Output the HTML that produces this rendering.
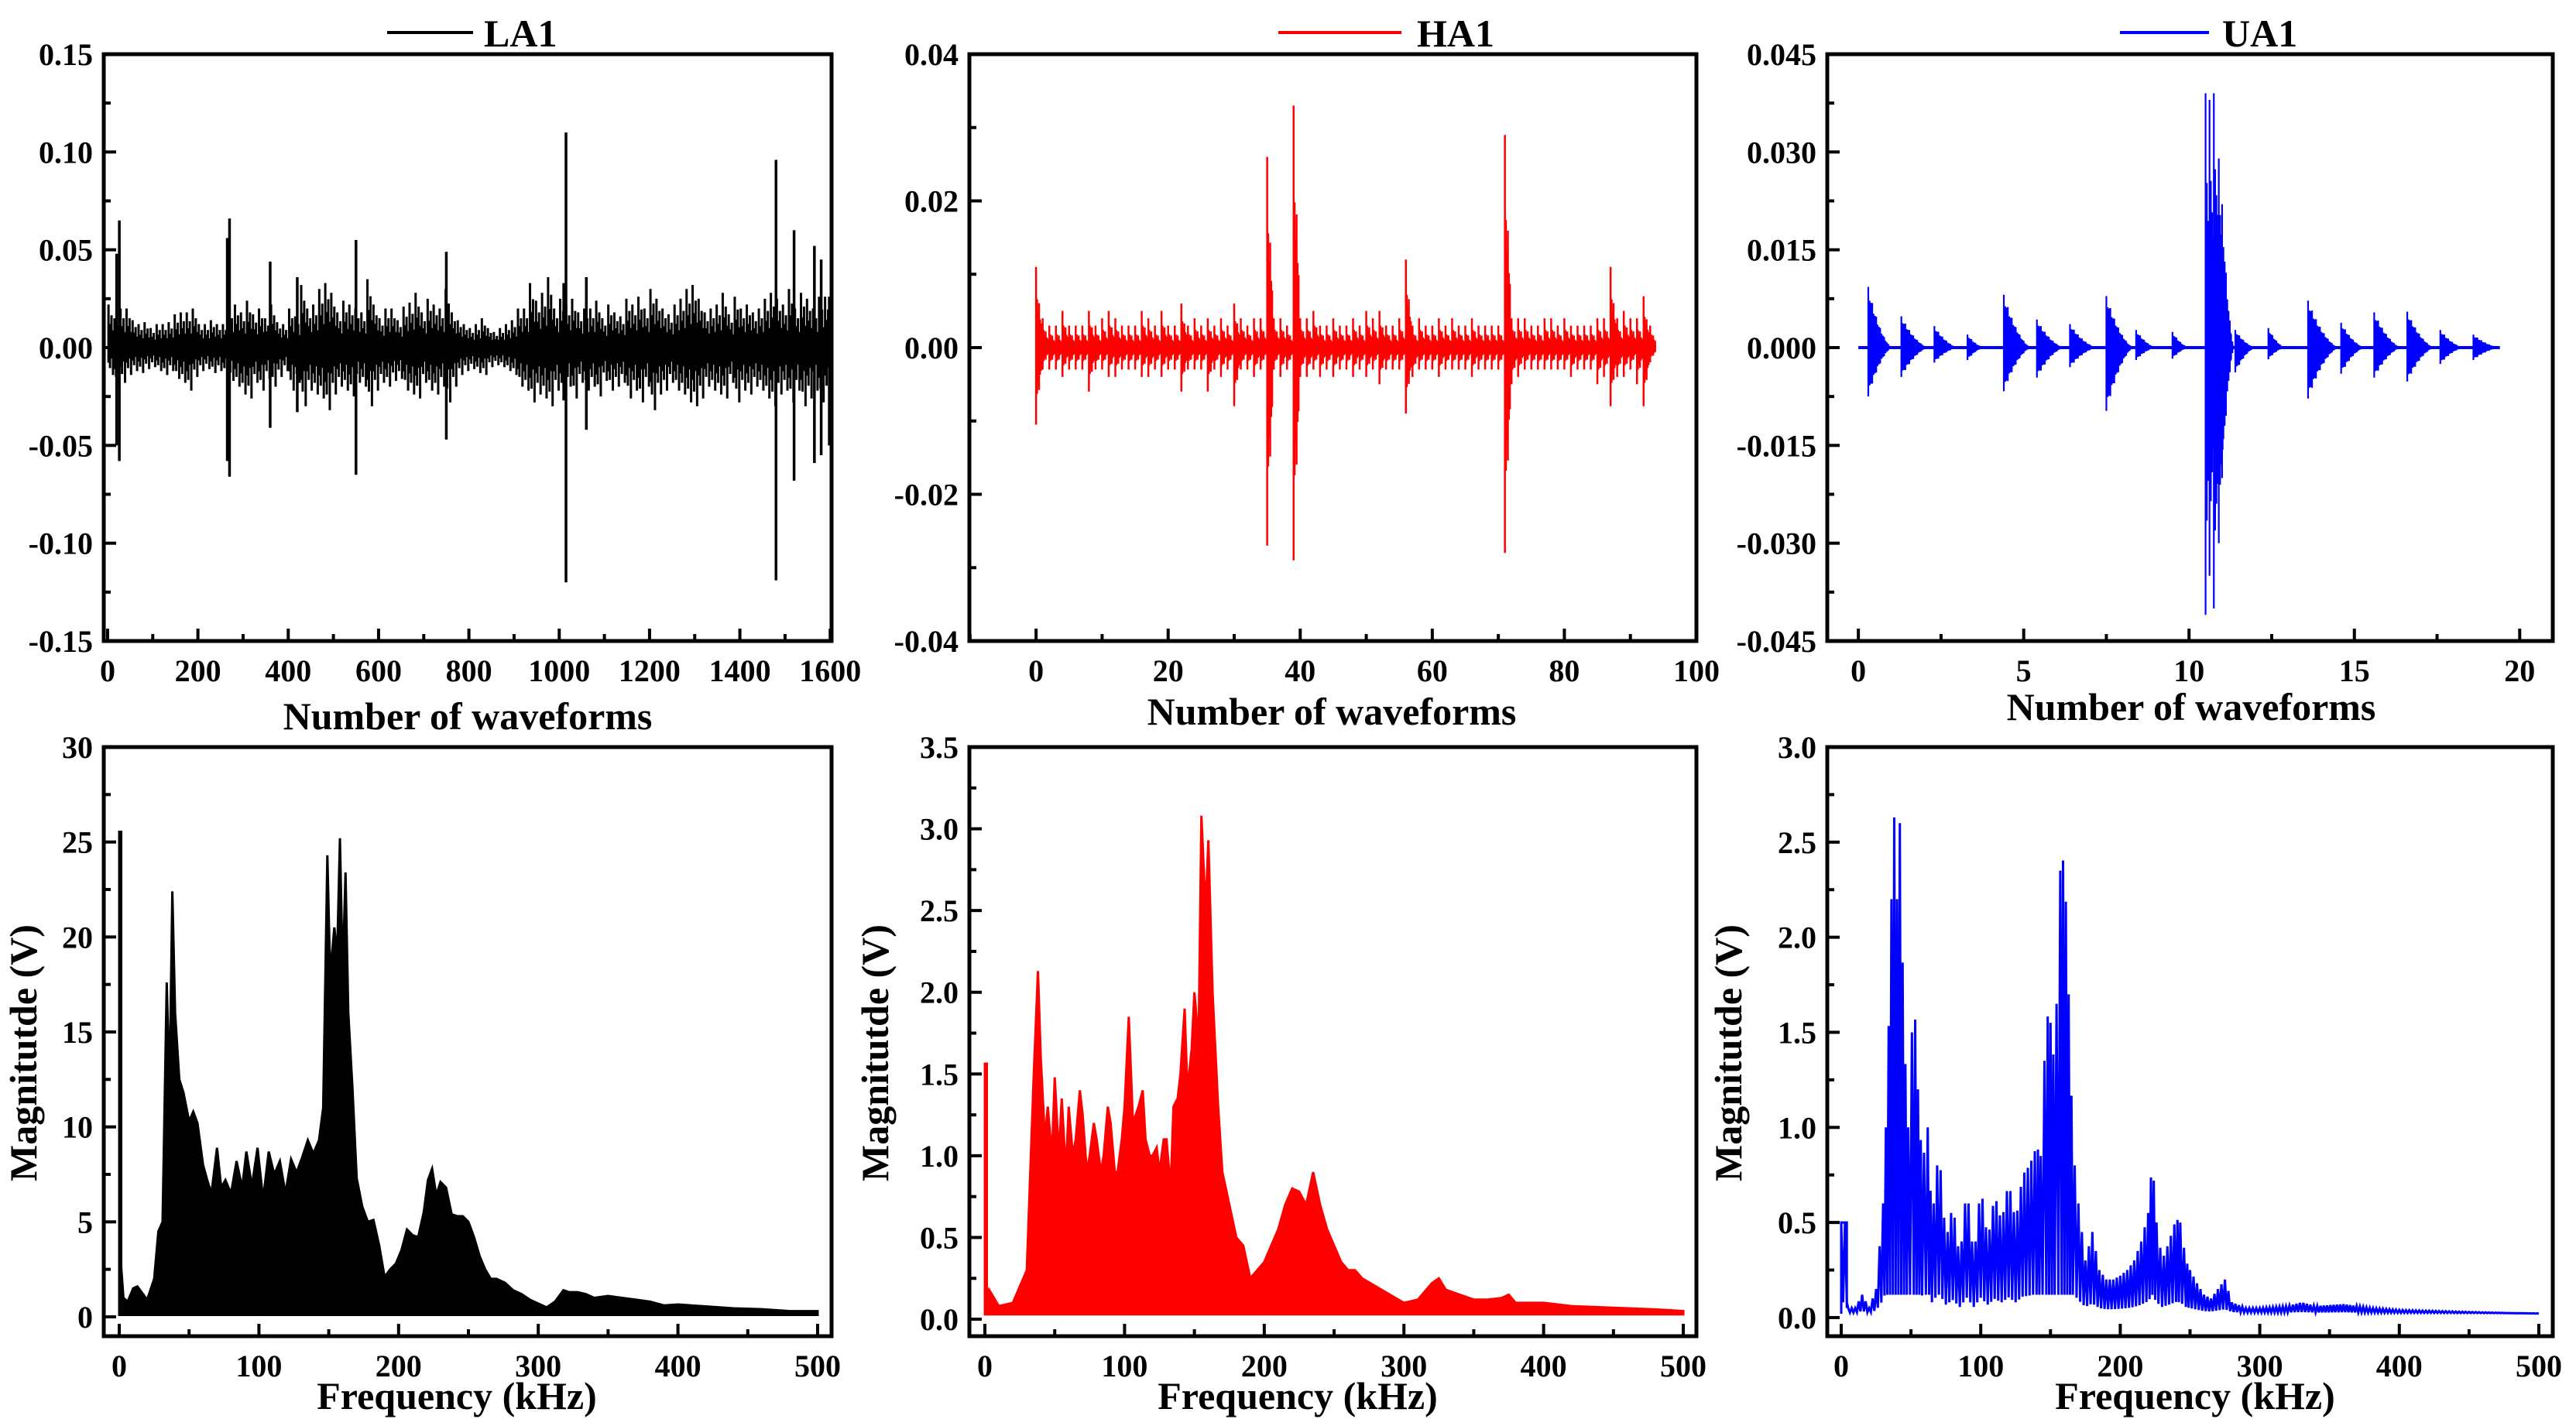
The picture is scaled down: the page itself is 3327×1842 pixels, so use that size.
<!DOCTYPE html>
<html><head><meta charset="utf-8"><title>LA1 HA1 UA1 waveforms and spectra</title>
<style>
html,body{margin:0;padding:0;background:#fff;}
svg{display:block;font-family:"Liberation Serif",serif;font-weight:bold;}
</style></head>
<body>
<svg id="fig" width="3327" height="1842" viewBox="0 0 3327 1842" xmlns="http://www.w3.org/2000/svg"></svg>
<script>
// ---------- DATA ----------
const la1Hi = [22,15,20,20,14,12,13,10,12,12,13,17,18,18,20,12,12,14,12,12,20,22,18,24,17,20,15,22,13,12,20,16,32,20,22,30,33,28,18,24,22,20,18,35,22,15,20,20,14,21,23,28,18,25,22,20,30,18,14,12,10,12,15,10,8,10,12,14,20,20,33,24,28,36,20,25,22,25,18,20,20,24,15,22,18,16,25,22,26,20,30,25,20,17,22,25,30,32,25,18,20,22,28,17,26,20,22,18,20,25,28,25,22,30,20,28,25,20,26,26];
const la1Lo = [-14,-20,-18,-14,-12,-13,-11,-10,-12,-14,-12,-16,-18,-22,-15,-12,-11,-13,-12,-14,-17,-20,-24,-26,-18,-22,-16,-20,-15,-12,-22,-18,-30,-22,-24,-26,-32,-24,-20,-22,-25,-18,-20,-30,-22,-18,-20,-17,-16,-22,-24,-26,-18,-22,-24,-20,-28,-20,-14,-12,-11,-13,-14,-10,-9,-10,-12,-14,-20,-22,-28,-24,-26,-30,-22,-24,-20,-26,-18,-22,-20,-25,-17,-22,-20,-18,-26,-22,-28,-20,-32,-24,-22,-18,-22,-24,-28,-30,-26,-20,-22,-24,-26,-18,-28,-22,-24,-20,-22,-26,-30,-24,-22,-28,-22,-30,-26,-22,-28,-26];
const la1SpikeX = [20,26,265,270,360,420,550,750,1010,1015,1060,1480,1520,1565,1580,1598];
const la1SpikeHi = [0.048,0.065,0.056,0.066,0.044,0.036,0.055,0.049,0.033,0.110,0.036,0.096,0.060,0.052,0.045,0.026];
const la1SpikeLo = [-0.050,-0.058,-0.058,-0.066,-0.041,-0.033,-0.065,-0.047,-0.027,-0.120,-0.042,-0.119,-0.068,-0.059,-0.055,-0.050];
const ha1Hi = [11,4,3,3,5,3,3,3,5,3,4,5,4,3,3,3,5,4,3,5,3,3,6,3,4,3,4,3,4,3,6,4,3,4,4,26,4,4,3,33,4,4,5,3,3,4,3,3,4,3,5,4,5,3,3,4,12,3,4,3,3,4,3,4,3,3,4,3,3,3,3,29,4,4,4,3,3,4,4,3,4,3,3,3,3,4,4,11,4,5,4,4,7,3];
const ha1Lo = [-10.5,-3,-3,-3,-4,-3,-3,-3,-6,-3,-3,-4,-4,-3,-3,-3,-4,-4,-3,-4,-3,-3,-6,-3,-3,-3,-6,-3,-4,-3,-8,-3,-3,-4,-3,-27,-3,-4,-3,-29,-4,-4,-3,-4,-3,-4,-3,-3,-4,-3,-4,-3,-5,-3,-3,-3,-9,-4,-3,-3,-3,-4,-3,-3,-3,-3,-4,-3,-3,-3,-3,-28,-5,-4,-3,-3,-3,-3,-3,-3,-3,-4,-3,-3,-3,-5,-4,-8,-4,-4,-3,-5,-8,-2];
const ua1BurstX = [0.3,1.3,2.3,3.3,4.4,5.4,6.4,7.5,8.4,9.5,10.5,10.62,10.75,10.9,11.0,11.4,12.4,13.6,14.6,15.6,16.6,17.6,18.6];
const ua1BurstHi = [0.0093,0.0048,0.0033,0.0020,0.0081,0.0043,0.0036,0.0079,0.0027,0.0024,0.039,0.038,0.039,0.029,0.022,0.0027,0.0030,0.0072,0.0038,0.0054,0.0055,0.0027,0.0020];
const ua1BurstLo = [-0.0075,-0.0045,-0.0023,-0.0019,-0.0067,-0.0046,-0.0030,-0.0097,-0.0019,-0.0017,-0.041,-0.035,-0.040,-0.030,-0.020,-0.0038,-0.0018,-0.0078,-0.0040,-0.0046,-0.0052,-0.0025,-0.0019];
const ua1BurstDur = [0.7,0.8,0.7,0.5,0.8,0.8,0.8,0.8,0.6,0.5,0.25,0.3,0.35,0.35,0.35,0.6,0.5,0.9,0.7,0.8,0.8,0.7,0.8];
const la1Freq = [0,1,3,6,10,13,16,20,25,28,31,34,36,38,40,43,46,50,53,56,60,63,66,70,73,76,80,84,88,91,95,99,103,107,111,115,119,123,127,131,135,139,143,146,149,151,154,156,158,160,162,164,167,170,174,178,182,186,190,194,198,202,206,210,214,218,221,224,227,230,234,238,242,246,250,254,258,262,266,270,276,282,288,294,300,306,312,318,322,328,334,340,350,360,370,380,390,400,420,440,460,480,500];
const la1Mag = [25.6,3,1,0.8,1.5,1.6,1.3,0.9,2,4.5,5,17.6,12,22.4,16,12.5,11.8,10.3,10.8,10.2,8,7.2,6.5,8.9,6.8,7.2,6.5,8.2,6.8,8.7,6.9,8.9,6.2,8.7,7.5,8.2,6.5,8.3,7.6,8.4,9.3,8.6,9.3,11,24.3,18,20.5,19,25.2,18,23.4,16,12,7.3,5.8,5,5.1,3.8,2.1,2.5,2.8,3.5,4.6,4.3,4.2,5.5,7.2,7.8,6.4,7.1,6.8,5.4,5.3,5.3,5,4.2,3.2,2.5,2,2,1.8,1.4,1.2,0.9,0.7,0.5,0.8,1.4,1.3,1.3,1.2,1,1.1,1,0.9,0.8,0.6,0.65,0.55,0.45,0.4,0.3,0.3];
const ha1Freq = [0,1,3,10,20,30,35,38,40,43,45,48,50,53,55,58,60,63,65,68,70,73,75,78,80,83,85,88,90,93,95,98,100,103,106,110,113,115,118,120,123,125,128,130,133,135,138,140,143,145,148,150,153,155,158,160,163,167,170,175,180,185,190,195,200,205,210,215,220,225,230,235,240,245,250,255,260,265,270,280,290,300,310,320,325,330,340,350,360,370,375,380,400,420,450,480,500];
const ha1Mag = [1.57,0.1,0.18,0.08,0.1,0.3,1.5,2.13,1.6,1.1,1.3,1.0,1.48,1.0,1.35,0.9,1.3,1.0,1.1,1.4,1.25,0.9,1.0,1.2,1.1,0.9,1.0,1.3,1.2,0.9,0.9,1.1,1.3,1.85,1.2,1.3,1.4,1.1,1.0,1.0,1.05,0.9,1.1,1.1,0.8,1.3,1.35,1.5,1.9,1.4,1.65,2.0,1.7,3.08,2.5,2.93,2.0,1.3,0.9,0.7,0.5,0.45,0.25,0.3,0.35,0.45,0.55,0.7,0.8,0.78,0.7,0.9,0.7,0.55,0.45,0.35,0.3,0.3,0.25,0.2,0.15,0.1,0.12,0.22,0.25,0.18,0.15,0.12,0.12,0.13,0.15,0.1,0.1,0.08,0.07,0.06,0.05];
const ua1Freq = [0,4,5,10,15,20,25,30,33,36,38,40,42,45,48,52,55,58,62,65,70,75,80,85,90,95,100,105,110,115,120,125,130,135,140,143,147,150,153,157,160,163,166,170,175,180,185,190,195,200,205,210,215,220,223,226,230,235,240,243,247,250,255,260,265,270,275,280,290,300,320,330,340,360,380,400,450,500];
const ua1Mag = [0.5,0.5,0.05,0.05,0.12,0.05,0.15,0.6,1.2,2.2,2.63,2.2,2.6,1.5,1.0,1.75,1.2,0.8,1.0,0.5,0.9,0.4,0.6,0.3,0.7,0.3,0.7,0.4,0.65,0.5,0.72,0.5,0.75,0.8,0.9,0.85,1.6,1.55,1.3,2.35,2.43,1.7,0.9,0.6,0.3,0.45,0.25,0.2,0.2,0.22,0.25,0.3,0.4,0.55,0.83,0.5,0.3,0.4,0.52,0.5,0.3,0.25,0.18,0.12,0.1,0.15,0.2,0.08,0.05,0.05,0.06,0.08,0.06,0.07,0.05,0.04,0.03,0.02];
const p1YTicks = ["0.15","0.10","0.05","0.00","-0.05","-0.10","-0.15"];
const p2YTicks = ["0.04","0.02","0.00","-0.02","-0.04"];
const p3YTicks = ["0.045","0.030","0.015","0.000","-0.015","-0.030","-0.045"];
const p4YTicks = ["0","5","10","15","20","25","30"];
const p5YTicks = ["0.0","0.5","1.0","1.5","2.0","2.5","3.0","3.5"];
const p6YTicks = ["0.0","0.5","1.0","1.5","2.0","2.5","3.0"];

// ---------- RENDER ----------
const NS = "http://www.w3.org/2000/svg";
const svg = document.getElementById('fig');
function mk(tag, attrs, parent) {
  const e = document.createElementNS(NS, tag);
  for (const k in attrs) e.setAttribute(k, attrs[k]);
  (parent || svg).appendChild(e);
  return e;
}
const defs = mk('defs', {});

function panel(id, box, xr, yr, xMajor, xMinor, yMajor, yMinor, yLabels, xLabelDigits) {
  const g = mk('g', {});
  
  
  const sx = v => box.x0 + (v - xr[0]) / (xr[1] - xr[0]) * (box.x1 - box.x0);
  const sy = v => box.y1 - (v - yr[0]) / (yr[1] - yr[0]) * (box.y1 - box.y0);
  const cp = mk('clipPath', {id: id + '-clip'}, defs);
  mk('rect', {x: box.x0, y: box.y0, width: box.x1 - box.x0, height: box.y1 - box.y0}, cp);
  const plot = mk('g', {'clip-path': 'url(#' + id + '-clip)'}, g);
  
  
  const tg = mk('g', {stroke: '#000', 'stroke-width': 4}, g);
  
  
  const eps = 1e-9;
  const xs = Math.ceil((xr[0] - eps) / xMinor);
  const xe = Math.floor((xr[1] + eps) / xMinor);
  for (let k = xs; k <= xe; k++) {
    const v = k * xMinor;
    const major = Math.abs(v / xMajor - Math.round(v / xMajor)) < 1e-6;
    mk('line', {x1: sx(v), x2: sx(v), y1: box.y1, y2: box.y1 - (major ? 16 : 9)}, tg);
    if (major) {
      const t = mk('text', {x: sx(v), y: box.y1 + 52, 'text-anchor': 'middle', 'font-size': 40, stroke: 'none', fill: '#000'}, g);
      t.textContent = xLabelDigits(v);
      
      
    }
  }
  const ys = Math.ceil((yr[0] - eps) / yMinor);
  const ye = Math.floor((yr[1] + eps) / yMinor);
  for (let k = ys; k <= ye; k++) {
    const v = k * yMinor;
    const major = Math.abs(v / yMajor - Math.round(v / yMajor)) < 1e-6;
    mk('line', {x1: box.x0, x2: box.x0 + (major ? 16 : 9), y1: sy(v), y2: sy(v)}, tg);
  }
  for (let i = 0; i < yLabels.length; i++) {
    const v = parseFloat(yLabels[i]);
    const t = mk('text', {x: box.x0 - 14, y: sy(v) + 14, 'text-anchor': 'end', 'font-size': 40, fill: '#000'}, g);
    t.textContent = yLabels[i];
    
    
  }
  const frame = mk('rect', {x: box.x0, y: box.y0, width: box.x1 - box.x0, height: box.y1 - box.y0, fill: 'none', stroke: '#000', 'stroke-width': 5}, g);
  
  
  return {g, plot, sx, sy};
}
function txt(x, y, s, size, name, anchor, rot) {
  const a = {x: x, y: y, 'font-size': size, 'text-anchor': anchor || 'middle', fill: '#000'};
  if (rot) a.transform = 'rotate(-90 ' + x + ' ' + y + ')';
  const t = mk('text', a);
  t.textContent = s;
  
  
  return t;
}
function legend(x1, x2, tx, color, label, name) {
  const l = mk('line', {x1: x1, x2: x2, y1: 42, y2: 42, stroke: color, 'stroke-width': 4});
  
  
  txt(tx, 60, label, 50, name + '-legend-label', 'start');
}
const intLab = v => String(Math.round(v));
const topRow = {y0: 70, y1: 828}, botRow = {y0: 965, y1: 1726};

// Panel 1
const P1 = panel('la1-wave', {x0: 134, x1: 1074, y0: topRow.y0, y1: topRow.y1}, [-8.5, 1603], [-0.15, 0.15], 200, 100, 0.05, 0.025, p1YTicks, intLab);
{
  const w = 1600 / la1Hi.length;
  const fr = [0.15, 0.4, 0.65, 0.9], fa = [1, 0.55, 0.75, 0.4];
  for (let i = 0; i < la1Hi.length; i++) {
    for (let k = 0; k < fr.length; k++) {
      const x = P1.sx(i * w + fr[k] * w);
      const l = mk('line', {x1: x, x2: x, y1: P1.sy(la1Hi[i] * 1e-3 * fa[k]), y2: P1.sy(la1Lo[i] * 1e-3 * fa[(k + 1) % 4]), stroke: '#000', 'stroke-width': 3}, P1.plot);
      
      
    }
  }
  const core = mk('rect', {x: P1.sx(0), y: P1.sy(0.004), width: P1.sx(1600) - P1.sx(0), height: P1.sy(-0.004) - P1.sy(0.004), fill: '#000'}, P1.plot);
  
  
  for (let i = 0; i < la1SpikeX.length; i++) {
    const x = P1.sx(la1SpikeX[i]);
    const l = mk('line', {x1: x, x2: x, y1: P1.sy(la1SpikeHi[i]), y2: P1.sy(la1SpikeLo[i]), stroke: '#000', 'stroke-width': 3.5}, P1.plot);
    
    
  }
}
legend(500, 611, 625, '#000', 'LA1', 'la1');
txt(604, 942, 'Number of waveforms', 50, 'la1-wave-x-axis-title');

// Panel 2
const P2 = panel('ha1-wave', {x0: 1252, x1: 2191, y0: topRow.y0, y1: topRow.y1}, [-10.1, 100], [-0.04, 0.04], 20, 10, 0.02, 0.01, p2YTicks, intLab);
{
  const base = mk('line', {x1: P2.sx(0), x2: P2.sx(93.5), y1: P2.sy(0), y2: P2.sy(0), stroke: '#f00', 'stroke-width': 3}, P2.plot);
  
  
  const off = [0, 0.15, 0.3, 0.45, 0.6, 0.75], fa = [1, 0.6, 0.45, 0.55, 0.35, 0.3];
  for (let i = 0; i < ha1Hi.length; i++) {
    for (let k = 0; k < off.length; k++) {
      const x = P2.sx(i + off[k]);
      const l = mk('line', {x1: x, x2: x, y1: P2.sy(ha1Hi[i] * 1e-3 * fa[k]), y2: P2.sy(ha1Lo[i] * 1e-3 * fa[k]), stroke: '#f00', 'stroke-width': 2.5}, P2.plot);
      
      
    }
  }
}
legend(1651, 1810, 1830, '#f00', 'HA1', 'ha1');
txt(1720, 936, 'Number of waveforms', 50, 'ha1-wave-x-axis-title');

// Panel 3
const P3 = panel('ua1-wave', {x0: 2360, x1: 3297, y0: topRow.y0, y1: topRow.y1}, [-0.94, 21], [-0.045, 0.045], 5, 2.5, 0.015, 0.0075, p3YTicks, intLab);
{
  const base = mk('line', {x1: P3.sx(0), x2: P3.sx(19.4), y1: P3.sy(0), y2: P3.sy(0), stroke: '#00f', 'stroke-width': 4}, P3.plot);
  
  
  const jag = [1, 0.7, 0.85, 0.55, 0.9, 0.65];
  for (let b = 0; b < ua1BurstX.length; b++) {
    const steps = Math.max(6, Math.round(ua1BurstDur[b] / 0.02));
    for (let s = 0; s < steps; s++) {
      const f = s / steps;
      const amp = (1 - f) * (0.35 + 0.65 * (1 - f)) * jag[s % jag.length];
      const x = P3.sx(ua1BurstX[b] + f * ua1BurstDur[b]);
      const l = mk('line', {x1: x, x2: x, y1: P3.sy(ua1BurstHi[b] * amp), y2: P3.sy(ua1BurstLo[b] * amp), stroke: '#00f', 'stroke-width': 2.2}, P3.plot);
      
      
    }
  }
}
legend(2738, 2853, 2870, '#00f', 'UA1', 'ua1');
txt(2830, 930, 'Number of waveforms', 50, 'ua1-wave-x-axis-title');

// Spectra
function spectrum(P, freq, mag, color, name, floor) {
  const n = Math.min(freq.length, mag.length);
  let pts = P.sx(freq[0]) + ',' + P.sy(floor);
  for (let i = 0; i < n; i++) pts += ' ' + P.sx(freq[i]) + ',' + P.sy(mag[i]);
  pts += ' ' + P.sx(freq[n - 1]) + ',' + P.sy(floor);
  const p = mk('polygon', {points: pts, fill: color, stroke: color, 'stroke-width': 3, 'stroke-linejoin': 'miter'}, P.plot);
  
  
  const sp = mk('line', {x1: P.sx(freq[0]) + 2, x2: P.sx(freq[0]) + 2, y1: P.sy(floor), y2: P.sy(mag[0]), stroke: color, 'stroke-width': 4}, P.plot);
  
  
}
const P4 = panel('la1-spec', {x0: 134, x1: 1074, y0: botRow.y0, y1: botRow.y1}, [-11.1, 510], [-1.02, 30], 100, 50, 5, 2.5, p4YTicks, intLab);
spectrum(P4, la1Freq, la1Mag, '#000', 'la1-spectrum', 0.1);
txt(47, 1360, 'Magnitutde (V)', 50, 'la1-spec-y-axis-title', 'middle', true);
txt(590, 1820, 'Frequency (kHz)', 50, 'la1-spec-x-axis-title');

const P5 = panel('ha1-spec', {x0: 1252, x1: 2191, y0: botRow.y0, y1: botRow.y1}, [-11.1, 509.4], [-0.104, 3.5], 100, 50, 0.5, 0.25, p5YTicks, intLab);
spectrum(P5, ha1Freq, ha1Mag, '#f00', 'ha1-spectrum', 0.03);
txt(1147, 1360, 'Magnitutde (V)', 50, 'ha1-spec-y-axis-title', 'middle', true);
txt(1676, 1820, 'Frequency (kHz)', 50, 'ha1-spec-x-axis-title');

const P6 = panel('ua1-spec', {x0: 2360, x1: 3297, y0: botRow.y0, y1: botRow.y1}, [-10, 510], [-0.098, 3.0], 100, 50, 0.5, 0.25, p6YTicks, intLab);
{
  const n = Math.min(ua1Freq.length, ua1Mag.length);
  let pts = '';
  let up = true;
  for (let i = 0; i < n - 1; i++) {
    const a = ua1Freq[i], b = ua1Freq[i + 1];
    const steps = Math.max(1, Math.round((b - a) / 1.2));
    for (let s = 0; s < steps; s++) {
      const f = a + (b - a) * s / steps;
      const m = ua1Mag[i] + (ua1Mag[i + 1] - ua1Mag[i]) * s / steps;
      const v = up ? m : Math.min(m * 0.12, 0.1) + 0.02;
      pts += P6.sx(f) + ',' + P6.sy(v) + ' ';
      up = !up;
    }
  }
  pts += P6.sx(ua1Freq[n - 1]) + ',' + P6.sy(ua1Mag[n - 1]);
  const pl = mk('polyline', {points: pts, fill: 'none', stroke: '#00f', 'stroke-width': 3}, P6.plot);
  
  
  const dc = mk('polyline', {points: P6.sx(0) + ',' + P6.sy(0.02) + ' ' + P6.sx(0) + ',' + P6.sy(0.5) + ' ' + P6.sx(4) + ',' + P6.sy(0.5) + ' ' + P6.sx(4) + ',' + P6.sy(0.05), fill: 'none', stroke: '#00f', 'stroke-width': 3}, P6.plot);
  
  
}
txt(2249, 1360, 'Magnitutde (V)', 50, 'ua1-spec-y-axis-title', 'middle', true);
txt(2835, 1820, 'Frequency (kHz)', 50, 'ua1-spec-x-axis-title');
</script>
</body></html>
